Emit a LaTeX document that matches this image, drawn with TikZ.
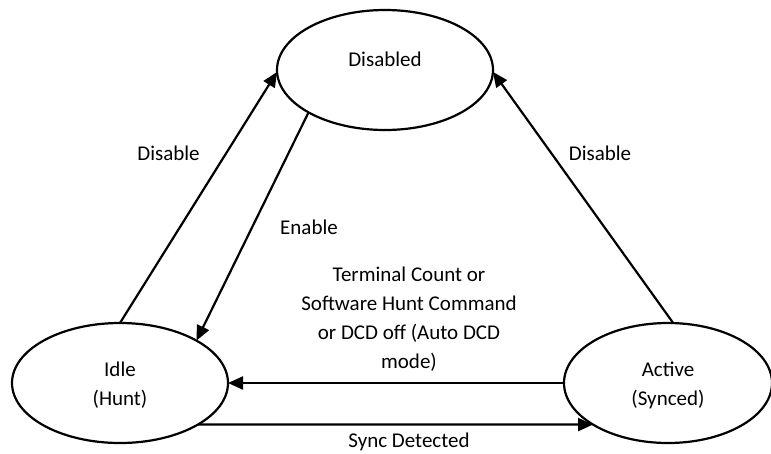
\documentclass[tikz,border=0pt]{standalone}
\usepackage{fontspec}
\setmainfont{Carlito}
\usetikzlibrary{shapes.geometric,arrows.meta}
\tikzset{
  state/.style={ellipse, draw, line width=2.2pt, inner sep=0pt, outer sep=0pt,
    minimum width=#1},
  state/.default=214pt,
  txt/.style={font=\fontsize{21}{29}\selectfont, align=center, inner sep=0pt},
  edge/.style={line width=2.2pt, -{Triangle[length=15pt,width=13pt]}}
}
\begin{document}
\begin{tikzpicture}[x=1pt,y=-1pt]
  \useasboundingbox (0,0) rectangle (771,453);

  % states
  \node[state=216pt, minimum height=120pt] (dis) at (385,70) {};
  \node[state=216pt, minimum height=120pt] (idle) at (120,383) {};
  \node[state=208pt, minimum height=120pt] (act) at (668,383) {};

  \node[txt] (tdis) at (385,59) {Disabled};
  \node[txt] (tidle) at (120,385.5) {Idle\\(Hunt)};
  \node[txt] (tact) at (668,385.5) {Active\\(Synced)};

  % transitions
  \draw[edge] (idle.north) -- (dis.181.5);
  \draw[edge] (dis.209.2) -- (idle.29.4);
  \draw[edge] (act.85) -- (dis.-1.5);
  \draw[edge] (act.west) -- (idle.east);
  \draw[edge] (idle.-28.6) -- (act.209.25);

  % transition labels
  \node[txt] (l1) at (168.5,153) {Disable};
  \node[txt] (l2) at (309,227) {Enable};
  \node[txt] (l3) at (600,153) {Disable};
  \node[txt] (l4) at (409,319) {Terminal Count or\\Software Hunt Command\\or DCD off (Auto DCD\\mode)};
  \node[txt] (l5) at (409,442) {Sync Detected};
\end{tikzpicture}
\end{document}
